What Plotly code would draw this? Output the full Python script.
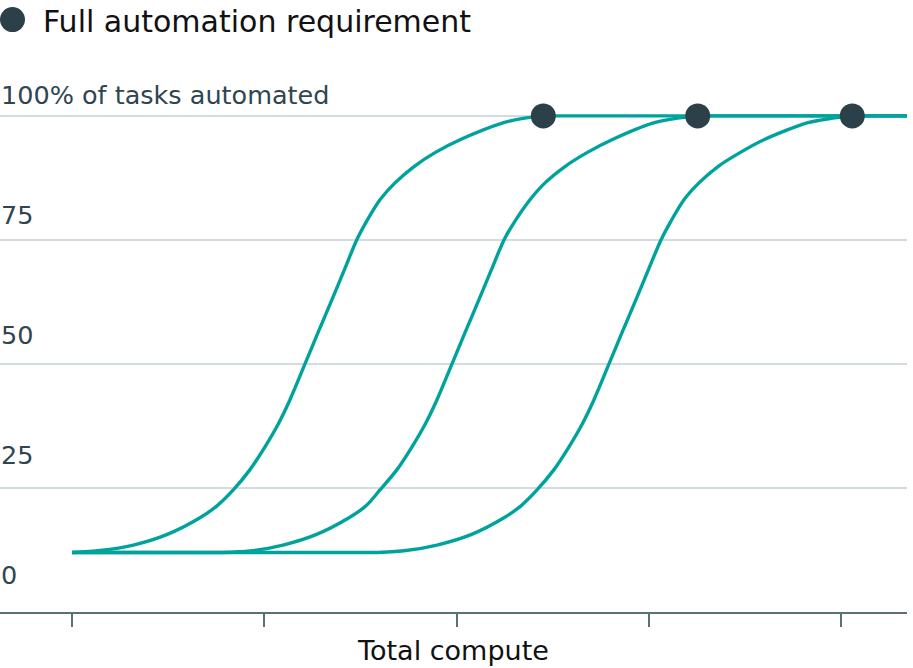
import plotly.graph_objects as go

# ---- data (x in "total compute" tick units, y in % of tasks automated) ----
curve1_x = [0, 0.1456, 0.3188, 0.4925, 0.6656, 0.7540, 0.8388, 0.9256, 1.0036, 1.0712, 1.1336,
            1.2116, 1.2792, 1.3468, 1.4145, 1.4805, 1.5325, 1.6017, 1.6797, 1.7785, 1.8877,
            2.0177, 2.2413, 2.3453, 2.4509]
curve1_y = [12, 12.4, 13.5, 15.6, 19, 21.4, 24.6, 28.7, 33.3, 37.8, 42.8,
            50, 56.3, 62.5, 68.8, 75, 78.8, 83.1, 86.5, 89.8, 92.6,
            95.2, 98.6, 99.5, 100]

curve2_x = [0, 0.7800, 0.9256, 1.0972, 1.2688, 1.4405, 1.5289, 1.6017, 1.6901, 1.7681, 1.8357,
            1.8981, 1.9761, 2.0437, 2.1113, 2.1789, 2.2465, 2.3037, 2.3817, 2.4597, 2.5637,
            2.6781, 2.8133, 3.0161, 3.1410, 3.2538]
curve2_y = [12, 12, 12.3, 13.5, 15.6, 19, 21.4, 24.6, 28.7, 33.3, 37.8,
            42.8, 50, 56.3, 62.5, 68.8, 75, 78.8, 83.1, 86.5, 89.8,
            92.6, 95.3, 98.5, 99.5, 100]

curve3_x = [0, 1.5913, 1.7369, 1.8981, 2.0749, 2.2465, 2.3349, 2.4181, 2.5065, 2.5845, 2.6521,
            2.7145, 2.7925, 2.8601, 2.9277, 2.9953, 3.0629, 3.1149, 3.1825, 3.2605, 3.3593,
            3.4737, 3.5985, 3.8222, 3.9470, 4.0577]
curve3_y = [12, 12, 12.4, 13.5, 15.6, 19, 21.4, 24.6, 28.7, 33.3, 37.8,
            42.8, 50, 56.3, 62.5, 68.8, 75, 78.8, 83.1, 86.5, 89.8,
            92.6, 95.2, 98.6, 99.5, 100]

x_ticks = [0, 1, 2, 3, 4]
y_ticks = [0, 25, 50, 75, 100]
y_tick_labels = ["0", "25", "50", "75", "100% of tasks automated"]

title_text = "Full automation requirement"
x_title = "Total compute"

# ---- style ----
TEAL = "#00a39c"
DOT = "#2c4049"
GRID = "#d2dcdf"
AXIS = "#5d6f77"
LABEL = "#2f4651"
FONT = "DejaVu Sans"
LINE_W = 3.4

x_range = [-0.3744, 4.3422]
y_range = [0, 102]
M_T, M_B = 106.4, 55.7
PLOT_H = 668 - M_T - M_B
KEY_Y = 1 + (M_T - 20) / PLOT_H   # paper y of the key row

fig = go.Figure()

line_style = dict(color=TEAL, width=LINE_W)
curves = [(curve1_x, curve1_y), (curve2_x, curve2_y), (curve3_x, curve3_y)]
for cx, cy in curves:
    # flat lead-in at the starting level
    k = 0
    while k + 1 < len(cy) and cy[k + 1] == cy[0]:
        k += 1
    if k > 0:
        fig.add_trace(go.Scatter(x=cx[:k + 1], y=cy[:k + 1], mode="lines",
                                 line=dict(**line_style, shape="linear"),
                                 showlegend=False, hoverinfo="skip"))
    # rising S-curve
    fig.add_trace(go.Scatter(x=cx[k:], y=cy[k:], mode="lines",
                             line=dict(**line_style, shape="spline", smoothing=0.8),
                             showlegend=False, hoverinfo="skip"))
    # stays at full automation afterwards
    fig.add_trace(go.Scatter(x=[cx[-1], x_range[1]], y=[cy[-1], cy[-1]], mode="lines",
                             line=dict(**line_style, shape="linear"),
                             showlegend=False, hoverinfo="skip", cliponaxis=False))

fig.add_trace(go.Scatter(
    x=[c[0][-1] for c in curves], y=[c[1][-1] for c in curves],
    mode="markers", marker=dict(color=DOT, size=25),
    name=title_text, showlegend=False, cliponaxis=False,
))

# y tick labels sit above their gridlines, slightly more so toward the bottom
for v, lab in zip(y_ticks, y_tick_labels):
    fig.add_annotation(
        x=0, xref="paper", y=v, yref="y", text=lab, showarrow=False,
        xanchor="left", yanchor="bottom", yshift=5 + 0.165 * (100 - v),
        font=dict(family=FONT, size=25.5, color=LABEL), borderpad=0,
    )

# key: dot + label
fig.add_shape(
    type="circle", xref="paper", yref="paper",
    xsizemode="pixel", ysizemode="pixel", xanchor=0, yanchor=KEY_Y,
    x0=0, x1=25, y0=-12.5, y1=12.5,
    fillcolor=DOT, line=dict(width=0),
)
fig.add_annotation(
    x=0, xref="paper", xshift=42, y=KEY_Y, yref="paper", yshift=-2,
    text=title_text, showarrow=False, xanchor="left", yanchor="middle",
    font=dict(family=FONT, size=30, color="#111111"), borderpad=0,
)

fig.update_layout(
    width=913, height=668,
    margin=dict(l=0, r=6, t=M_T, b=M_B, pad=0),
    paper_bgcolor="white", plot_bgcolor="white",
    font=dict(family=FONT, color=LABEL),
    showlegend=False,
    xaxis=dict(
        range=x_range, tickvals=x_ticks, showticklabels=False,
        ticks="outside", ticklen=13, tickwidth=2, tickcolor=AXIS,
        showline=True, linecolor=AXIS, linewidth=2,
        showgrid=False, zeroline=False, automargin=False,
        title=dict(text=x_title, font=dict(family=FONT, size=27, color="#111111"), standoff=15),
    ),
    yaxis=dict(
        range=y_range, tickvals=y_ticks, showticklabels=False, ticks="",
        showgrid=True, gridcolor=GRID, gridwidth=2,
        zeroline=False, showline=False, automargin=False,
    ),
)

fig.write_html("out.html", config={"displayModeBar": False},
               post_script="document.body.style.margin='0';")
